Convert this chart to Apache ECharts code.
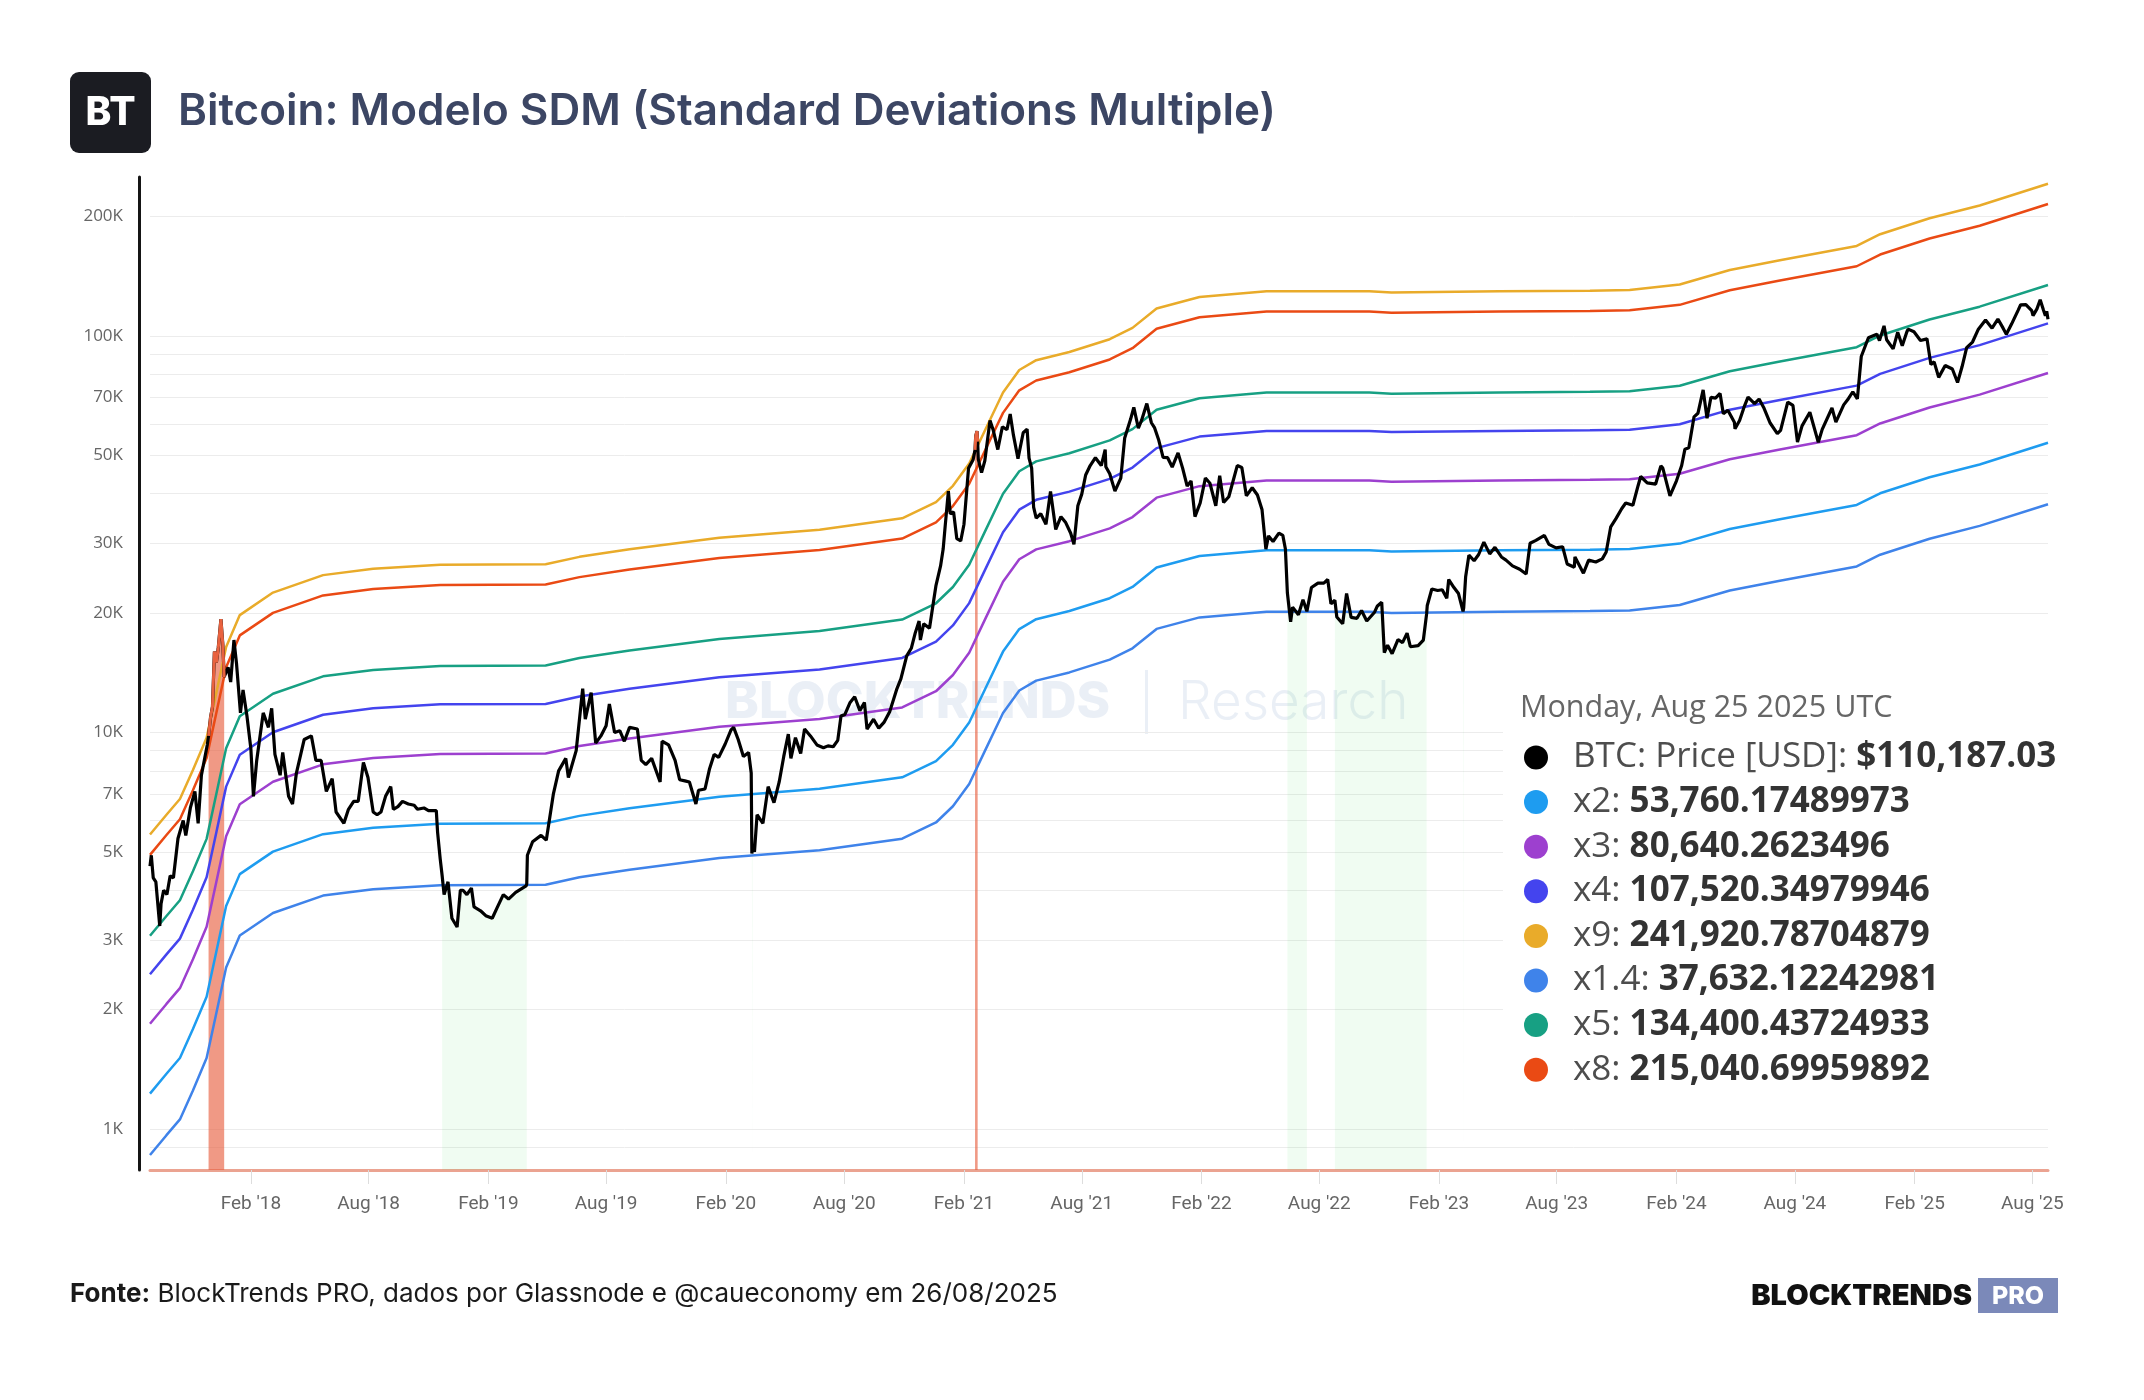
<!DOCTYPE html>
<html>
<head>
<meta charset="utf-8">
<title>Bitcoin: Modelo SDM</title>
<script src="https://cdn.jsdelivr.net/npm/echarts@6/dist/echarts.min.js"></script>
<style>
  html, body { margin: 0; padding: 0; background: #fff; }
  #chart { width: 2144px; height: 1400px; }
</style>
</head>
<body>
<div id="chart"></div>
<script>
// preço BTC (USD), leitura aproximada do gráfico
const btcPrice = [
  ['2017-08-30',4600],['2017-09-01',4900],['2017-09-04',4300],['2017-09-08',4200],['2017-09-14',3250],['2017-09-16',3700],
  ['2017-09-20',4000],['2017-09-25',3900],['2017-09-30',4350],['2017-10-05',4300],['2017-10-12',5400],['2017-10-20',6000],
  ['2017-10-24',5500],['2017-10-31',6450],['2017-11-07',7100],['2017-11-12',5900],['2017-11-17',7800],['2017-11-26',9300],
  ['2017-11-28',9800],['2017-12-01',10900],['2017-12-04',11600],['2017-12-07',16000],['2017-12-10',15000],['2017-12-13',16400],
  ['2017-12-17',19300],['2017-12-20',16600],['2017-12-22',13800],['2017-12-28',14600],
  ['2018-01-01',13400],['2018-01-06',17100],['2018-01-10',14900],['2018-01-16',11200],['2018-01-20',12800],['2018-01-26',11000],
  ['2018-02-01',9100],['2018-02-05',6900],['2018-02-10',8500],['2018-02-20',11200],['2018-02-28',10300],['2018-03-05',11500],
  ['2018-03-10',8800],['2018-03-18',7800],['2018-03-22',8900],['2018-03-31',6900],['2018-04-06',6600],['2018-04-12',7900],
  ['2018-04-24',9600],['2018-05-05',9800],['2018-05-12',8500],['2018-05-20',8500],['2018-05-28',7100],['2018-06-06',7650],
  ['2018-06-12',6300],['2018-06-24',5900],['2018-07-01',6400],['2018-07-09',6700],['2018-07-16',6700],['2018-07-24',8400],
  ['2018-07-31',7700],['2018-08-08',6300],['2018-08-14',6200],['2018-08-20',6300],['2018-08-27',6900],['2018-09-04',7300],
  ['2018-09-08',6400],['2018-09-15',6500],['2018-09-22',6700],['2018-10-01',6600],['2018-10-10',6550],['2018-10-15',6400],
  ['2018-10-25',6450],['2018-11-01',6350],['2018-11-13',6350],['2018-11-15',5600],['2018-11-19',4800],['2018-11-22',4350],
  ['2018-11-25',3900],['2018-12-01',4200],['2018-12-07',3400],['2018-12-15',3230],['2018-12-20',4000],['2018-12-24',4000],
  ['2018-12-30',3900],
  ['2019-01-06',4050],['2019-01-10',3630],['2019-01-20',3550],['2019-01-28',3450],['2019-02-07',3400],['2019-02-14',3600],
  ['2019-02-24',3900],['2019-03-04',3800],['2019-03-15',3950],['2019-03-31',4100],['2019-04-01',4150],['2019-04-02',4900],
  ['2019-04-10',5300],['2019-04-23',5500],['2019-05-01',5350],['2019-05-12',7000],['2019-05-20',8000],['2019-05-31',8600],
  ['2019-06-04',7700],['2019-06-16',9000],['2019-06-26',12900],['2019-06-30',10800],['2019-07-09',12600],['2019-07-16',9400],
  ['2019-07-24',9800],['2019-08-01',10400],['2019-08-06',11800],['2019-08-14',10000],['2019-08-22',10100],['2019-08-29',9500],
  ['2019-09-06',10300],['2019-09-18',10200],['2019-09-24',8500],['2019-10-01',8300],['2019-10-10',8600],['2019-10-23',7500],
  ['2019-10-26',9500],['2019-11-05',9300],['2019-11-15',8500],['2019-11-22',7600],['2019-11-30',7550],['2019-12-07',7500],
  ['2019-12-17',6600],['2019-12-21',7150],['2019-12-31',7200],
  ['2020-01-07',8100],['2020-01-14',8800],['2020-01-21',8650],['2020-01-31',9350],['2020-02-09',10150],['2020-02-13',10300],
  ['2020-02-20',9600],['2020-02-28',8700],['2020-03-07',8900],['2020-03-11',7900],['2020-03-12',4950],['2020-03-13',5200],
  ['2020-03-16',5000],['2020-03-20',6200],['2020-03-29',5900],['2020-04-06',7300],['2020-04-15',6650],['2020-04-23',7500],
  ['2020-04-30',8700],['2020-05-07',9900],['2020-05-11',8600],['2020-05-18',9700],['2020-05-26',8850],['2020-06-01',10200],
  ['2020-06-10',9800],['2020-06-20',9300],['2020-06-30',9150],['2020-07-07',9250],['2020-07-15',9200],['2020-07-22',9550],
  ['2020-07-27',11000],['2020-08-02',11100],['2020-08-10',11900],['2020-08-17',12300],['2020-08-25',11350],['2020-09-01',11900],
  ['2020-09-05',10200],['2020-09-15',10800],['2020-09-23',10250],['2020-10-01',10600],['2020-10-10',11300],['2020-10-21',12900],
  ['2020-10-27',13650],['2020-11-05',15600],['2020-11-12',16300],['2020-11-18',17800],['2020-11-24',19100],['2020-11-26',17100],
  ['2020-12-01',18800],['2020-12-10',18300],['2020-12-16',21300],['2020-12-20',23500],['2020-12-27',26300],['2020-12-31',29000],
  ['2021-01-03',33000],['2021-01-08',40600],['2021-01-11',35600],['2021-01-16',36000],['2021-01-21',30800],['2021-01-27',30400],
  ['2021-02-01',33500],['2021-02-08',46400],['2021-02-15',48700],['2021-02-18',51600],['2021-02-19',55900],['2021-02-20',56000],
  ['2021-02-21',57500],['2021-02-22',54100],['2021-02-23',48800],['2021-02-28',45200],['2021-03-05',48400],['2021-03-13',61200],
  ['2021-03-18',57800],['2021-03-25',51700],
  ['2021-04-01',59000],['2021-04-08',58000],['2021-04-13',63500],['2021-04-18',56200],['2021-04-25',49000],['2021-05-03',57000],
  ['2021-05-09',58200],['2021-05-12',49200],['2021-05-16',46400],['2021-05-19',37000],['2021-05-23',34700],['2021-05-30',35600],
  ['2021-06-07',33500],['2021-06-14',40500],['2021-06-22',32500],['2021-06-30',35000],['2021-07-07',33900],['2021-07-15',31800],
  ['2021-07-20',29800],['2021-07-26',37300],['2021-08-01',39900],['2021-08-07',44600],['2021-08-14',47100],['2021-08-22',49300],
  ['2021-08-31',47100],['2021-09-06',51700],['2021-09-07',46800],['2021-09-13',44900],['2021-09-21',40600],['2021-09-30',43800],
  ['2021-10-06',55300],['2021-10-15',61600],['2021-10-20',66000],['2021-10-27',58500],['2021-11-01',61300],['2021-11-09',67500],
  ['2021-11-16',60400],['2021-11-21',58600],['2021-11-27',54800],['2021-12-04',49400],['2021-12-11',49300],['2021-12-18',46700],
  ['2021-12-27',50700],
  ['2022-01-03',46400],['2022-01-10',41800],['2022-01-16',43100],['2022-01-22',35000],['2022-01-30',37900],['2022-02-07',43800],
  ['2022-02-14',42500],['2022-02-23',37300],['2022-03-01',44400],['2022-03-07',38000],['2022-03-15',39300],['2022-03-28',47100],
  ['2022-04-04',46600],['2022-04-11',39500],['2022-04-20',41400],['2022-04-28',39700],['2022-05-05',36500],['2022-05-11',29000],
  ['2022-05-15',31300],['2022-05-22',30300],['2022-05-31',31800],['2022-06-06',31400],['2022-06-10',29000],['2022-06-13',22500],
  ['2022-06-18',19000],['2022-06-21',20700],['2022-06-30',19800],['2022-07-07',21600],['2022-07-13',20200],['2022-07-20',23200],
  ['2022-07-30',23800],['2022-08-08',23800],['2022-08-14',24300],['2022-08-19',21100],['2022-08-25',21550],['2022-08-28',19550],
  ['2022-09-06',18800],['2022-09-12',22400],['2022-09-19',19500],['2022-09-28',19400],['2022-10-05',20300],['2022-10-13',19100],
  ['2022-10-25',20100],['2022-10-29',20800],['2022-11-05',21300],['2022-11-09',15900],['2022-11-14',16600],['2022-11-21',15800],
  ['2022-11-30',17150],['2022-12-07',16850],['2022-12-14',17800],['2022-12-19',16450],['2022-12-31',16550],
  ['2023-01-08',17100],['2023-01-13',19900],['2023-01-14',20900],['2023-01-21',23000],['2023-01-30',22800],['2023-02-06',22900],
  ['2023-02-13',21800],['2023-02-16',24300],['2023-02-24',23200],['2023-03-03',22400],['2023-03-10',20200],['2023-03-11',20600],
  ['2023-03-14',24700],['2023-03-19',28000],['2023-03-27',27100],['2023-04-03',28100],['2023-04-11',30200],['2023-04-14',30500],
  ['2023-04-20',28200],['2023-04-28',29300],['2023-05-08',27700],['2023-05-15',27200],['2023-05-25',26300],['2023-06-05',25800],
  ['2023-06-15',25100],['2023-06-21',30000],['2023-06-30',30500],['2023-07-13',31400],['2023-07-20',29800],['2023-07-31',29200],
  ['2023-08-10',29400],['2023-08-17',26600],['2023-08-28',26100],['2023-08-29',27700],['2023-09-11',25200],['2023-09-19',27200],
  ['2023-09-30',26900],['2023-10-10',27400],['2023-10-16',28500],['2023-10-23',33000],['2023-10-31',34600],['2023-11-09',36700],
  ['2023-11-15',37900],['2023-11-26',37400],['2023-12-04',41900],['2023-12-08',44200],['2023-12-18',42600],['2023-12-31',42300],
  ['2024-01-08',47000],['2024-01-11',46400],['2024-01-22',39500],['2024-02-01',43100],['2024-02-09',47100],['2024-02-14',51800],
  ['2024-02-20',52200],['2024-02-28',62500],['2024-03-05',63800],['2024-03-13',73100],['2024-03-19',62000],['2024-03-25',70000],
  ['2024-04-01',69700],['2024-04-08',71600],['2024-04-13',63600],['2024-04-20',64900],['2024-04-30',60600],['2024-05-01',58300],
  ['2024-05-08',61200],['2024-05-15',66200],['2024-05-21',70100],['2024-05-31',67500],['2024-06-07',69300],['2024-06-14',66000],
  ['2024-06-24',60300],['2024-07-05',56700],['2024-07-10',57800],['2024-07-21',68100],['2024-07-29',66800],['2024-08-05',54000],
  ['2024-08-12',59300],['2024-08-24',64200],['2024-09-06',53900],['2024-09-12',58100],['2024-09-27',65800],['2024-10-03',60600],
  ['2024-10-15',67000],['2024-10-21',69000],['2024-10-29',72300],['2024-11-05',69400],['2024-11-11',88700],['2024-11-22',98900],
  ['2024-12-05',101000],['2024-12-09',97300],['2024-12-16',106000],['2024-12-20',97800],['2024-12-30',92700],
  ['2025-01-06',102200],['2025-01-13',94500],['2025-01-20',102300],['2025-01-22',104000],['2025-01-31',102400],['2025-02-03',101400],
  ['2025-02-10',97400],['2025-02-20',98300],['2025-02-26',84700],['2025-03-03',86000],['2025-03-10',78600],['2025-03-20',84200],
  ['2025-03-31',82500],['2025-04-08',76300],['2025-04-15',83700],['2025-04-22',93400],['2025-05-01',96500],['2025-05-10',104000],
  ['2025-05-21',109600],['2025-05-31',104600],['2025-06-09',110300],['2025-06-17',104600],['2025-06-22',101000],['2025-06-30',107100],
  ['2025-07-10',116000],['2025-07-14',119800],['2025-07-22',119900],['2025-07-31',115800],['2025-08-02',112500],['2025-08-08',117000],
  ['2025-08-13',123300],['2025-08-18',116300],['2025-08-21',112400],['2025-08-23',115400],['2025-08-25',110187.03]
];

// banda base (x1), as outras são múltiplos dela
const bandBase = [
  ['2017-08-30',614],['2017-09-24',688],['2017-10-15',755],['2017-11-04',893],['2017-11-25',1078],['2017-12-10',1401],
  ['2017-12-25',1825],['2018-01-15',2196],['2018-03-07',2503],['2018-05-23',2770],['2018-08-08',2875],['2018-11-19',2943],
  ['2019-04-30',2950],['2019-06-21',3080],['2019-09-06',3220],['2020-01-22',3443],['2020-06-24',3604],['2020-10-29',3853],
  ['2020-12-20',4234],['2021-01-15',4653],['2021-02-09',5297],['2021-03-07',6511],['2021-04-02',7995],['2021-04-27',9113],
  ['2021-05-23',9650],['2021-07-13',10120],['2021-09-13',10900],['2021-10-18',11640],['2021-11-24',13030],['2022-01-29',13930],
  ['2022-05-12',14400],['2022-10-17',14400],['2022-11-20',14300],['2023-05-05',14400],['2023-09-21',14450],['2023-11-21',14500],
  ['2024-02-06',14970],['2024-04-23',16290],['2024-07-09',17240],['2024-11-04',18730],['2024-12-10',20050],['2025-02-24',22000],
  ['2025-05-12',23700],['2025-08-25',26880.087449865]
];

const bandNames = ['x9', 'x8', 'x5', 'x4', 'x3', 'x2', 'x1.4'];
const bandMultiples = [9, 8, 5, 4, 3, 2, 1.4];
const bandColors = ['#e9ab2a', '#ea4a14', '#17a083', '#4444ee', '#9d40cf', '#1e9cf0', '#3f83ea'];

// zonas de sinal (preço acima de x9 / abaixo de x1.4)
const redWindows = [['2017-11-28', '2017-12-22'], ['2021-02-18', '2021-02-22']];
const greenWindows = [['2018-11-22', '2019-04-01'], ['2020-03-12', '2020-03-13'], ['2022-06-13', '2022-07-13'],
  ['2022-08-25', '2023-01-13'], ['2023-03-10', '2023-03-11']];

const xTickDates = ['2018-02-01','2018-08-01','2019-02-01','2019-08-01','2020-02-01','2020-08-01','2021-02-01','2021-08-01',
  '2022-02-01','2022-08-01','2023-02-01','2023-08-01','2024-02-01','2024-08-01','2025-02-01','2025-08-01'];
const monthNames = ['Jan','Feb','Mar','Apr','May','Jun','Jul','Aug','Sep','Oct','Nov','Dec'];

const yLabelValues = [1000, 2000, 3000, 5000, 7000, 10000, 20000, 30000, 50000, 70000, 100000, 200000];
const yGridValues = [900, 1000, 2000, 3000, 4000, 5000, 6000, 7000, 8000, 9000, 10000, 20000, 30000, 40000, 50000,
  60000, 70000, 80000, 90000, 100000, 200000];

const legendNames = ['BTC: Price [USD]', 'x2', 'x3', 'x4', 'x9', 'x1.4', 'x5', 'x8'];
const legendValues = ['$110,187.03', '53,760.17489973', '80,640.2623496', '107,520.34979946', '241,920.78704879',
  '37,632.12242981', '134,400.43724933', '215,040.69959892'];

const startDate = '2017-08-30';
const endDate = '2025-08-25';

function ts(s) {
  const p = s.split('-');
  return Date.UTC(+p[0], +p[1] - 1, +p[2]);
}

function toPoints(arr) {
  return arr.map(function (d) { return [ts(d[0]), d[1]]; });
}

function signalData(windows) {
  const out = [];
  windows.forEach(function (w, i) {
    if (i > 0) out.push([ts(w[0]) - 1, null]);
    btcPrice.forEach(function (p) {
      if (ts(p[0]) >= ts(w[0]) && ts(p[0]) <= ts(w[1])) out.push([ts(p[0]), p[1]]);
    });
  });
  return out;
}

const bandSeries = bandNames.map(function (name, i) {
  return {
    name: name,
    type: 'line',
    color: bandColors[i],
    showSymbol: false,
    symbol: 'none',
    lineStyle: { width: 2.5, color: bandColors[i] },
    data: bandBase.map(function (d) { return [ts(d[0]), d[1] * bandMultiples[i]]; })
  };
});

const chart = echarts.init(document.getElementById('chart'));

const wmColor = 'rgba(190, 204, 228, 0.32)';

chart.setOption({
  animation: false,
  backgroundColor: '#ffffff',
  grid: { left: 150, right: 96, top: 177, bottom: 230 },
  xAxis: {
    type: 'value',
    min: ts(startDate),
    max: ts(endDate),
    axisLine: { show: true, lineStyle: { color: '#eba391', width: 3 } },
    axisTick: { show: true, customValues: xTickDates.map(ts), length: 14, lineStyle: { color: '#dddddd', width: 1 } },
    axisLabel: {
      customValues: xTickDates.map(ts),
      color: '#666666',
      fontFamily: 'Roboto',
      fontSize: 19,
      margin: 25,
      formatter: function (value) {
        const d = new Date(value);
        return monthNames[d.getUTCMonth()] + " '" + String(d.getUTCFullYear()).slice(2);
      }
    },
    splitLine: { show: false }
  },
  yAxis: {
    type: 'log',
    logBase: 10,
    min: 788,
    max: 251600,
    offset: 11,
    axisLine: { show: true, lineStyle: { color: '#151515', width: 3 } },
    axisTick: { show: false },
    axisLabel: { show: false },
    splitLine: { show: false }
  },
  legend: {
    orient: 'vertical',
    left: 1524,
    top: 740,
    padding: 0,
    itemGap: 9.6,
    itemWidth: 64,
    itemHeight: 24,
    icon: 'circle',
    selectedMode: false,
    z: 10,
    data: legendNames,
    formatter: function (name) {
      const v = legendValues[legendNames.indexOf(name)];
      return '{n|' + name + ': }{v|' + v + '}';
    },
    textStyle: {
      fontFamily: 'Open Sans',
      fontSize: 35,
      color: '#4d4d4d',
      rich: {
        n: { fontFamily: 'Open Sans', fontSize: 35, color: '#4d4d4d' },
        v: { fontFamily: 'Open Sans', fontSize: 35, fontWeight: 700, color: '#333333' }
      }
    }
  },
  graphic: [
    { type: 'rect', z: 0, shape: { x: 70, y: 72, width: 81, height: 81, r: 9 }, style: { fill: '#1b1c22' } },
    { type: 'text', z: 1, x: 110.5, y: 113, style: { text: 'BT', fill: '#ffffff', fontFamily: 'Inter', fontSize: 39, fontWeight: 800,
      align: 'center', verticalAlign: 'middle', textAlign: 'center', textVerticalAlign: 'middle' } },
    { type: 'text', z: 1, x: 178, y: 112, style: { text: 'Bitcoin: Modelo SDM (Standard Deviations Multiple)', fill: '#3c4664',
      fontFamily: 'Inter', fontSize: 44, fontWeight: 600, align: 'left', verticalAlign: 'middle', textAlign: 'left', textVerticalAlign: 'middle' } },
    // marca d'água
    { type: 'text', z: 0, x: 725, y: 703, style: { text: 'BLOCKTRENDS', fill: wmColor, fontFamily: 'Inter', fontSize: 51, fontWeight: 800,
      align: 'left', verticalAlign: 'middle', textAlign: 'left', textVerticalAlign: 'middle' } },
    { type: 'rect', z: 0, shape: { x: 1145, y: 670, width: 3, height: 64 }, style: { fill: wmColor } },
    { type: 'text', z: 0, x: 1178, y: 703, style: { text: 'Research', fill: wmColor, fontFamily: 'Inter', fontSize: 53, fontWeight: 300,
      align: 'left', verticalAlign: 'middle', textAlign: 'left', textVerticalAlign: 'middle' } },
    // caixa da legenda
    { type: 'rect', z: 3, shape: { x: 1503, y: 622, width: 600, height: 500 }, style: { fill: '#ffffff' } },
    { type: 'text', z: 5, x: 1520, y: 708, style: { text: 'Monday, Aug 25 2025 UTC', fill: '#666666', fontFamily: 'Open Sans', fontSize: 30.5,
      align: 'left', verticalAlign: 'middle', textAlign: 'left', textVerticalAlign: 'middle' } },
    // rodapé
    { type: 'text', z: 1, x: 70, y: 1294, style: { text: '{b|Fonte:} BlockTrends PRO, dados por Glassnode e @caueconomy em 26/08/2025',
      fill: '#1a1a1a', fontFamily: 'Inter', fontSize: 26, align: 'left', verticalAlign: 'middle', textAlign: 'left', textVerticalAlign: 'middle',
      rich: { b: { fontFamily: 'Inter', fontSize: 26, fontWeight: 700, fill: '#1a1a1a' } } } },
    { type: 'text', z: 1, x: 1972, y: 1296, style: { text: 'BLOCKTRENDS', fill: '#111111', fontFamily: 'Inter', fontSize: 29, fontWeight: 900,
      align: 'right', verticalAlign: 'middle', textAlign: 'right', textVerticalAlign: 'middle' } },
    { type: 'rect', z: 1, shape: { x: 1978, y: 1278, width: 80, height: 35 }, style: { fill: '#7b89b9' } },
    { type: 'text', z: 2, x: 2018, y: 1296, style: { text: 'PRO', fill: '#ffffff', fontFamily: 'Inter', fontSize: 25, fontWeight: 800,
      align: 'center', verticalAlign: 'middle', textAlign: 'center', textVerticalAlign: 'middle' } }
  ],
  series: [
    {
      name: 'grid',
      type: 'line',
      z: 1,
      silent: true,
      symbol: 'none',
      lineStyle: { opacity: 0 },
      data: [[ts(startDate), 1000], [ts(endDate), 1000]],
      markLine: {
        silent: true,
        symbol: 'none',
        z: 1,
        animation: false,
        lineStyle: { color: '#ececec', width: 1, type: 'solid' },
        emphasis: { disabled: true },
        label: {
          position: 'start',
          distance: 27,
          color: '#666666',
          fontFamily: 'Open Sans',
          fontSize: 17,
          formatter: function (p) { return (p.value / 1000) + 'K'; }
        },
        data: yGridValues.map(function (v) {
          return { yAxis: v, label: { show: yLabelValues.indexOf(v) >= 0 } };
        })
      }
    },
    {
      name: 'green',
      type: 'line',
      symbol: 'none',
      silent: true,
      connectNulls: false,
      lineStyle: { width: 1.5, color: 'rgba(80, 220, 110, 0.2)' },
      areaStyle: { origin: 'start', color: 'rgba(80, 225, 110, 0.12)' },
      data: signalData(greenWindows)
    }
  ].concat(bandSeries).concat([
    {
      name: 'BTC: Price [USD]',
      type: 'line',
      color: '#000000',
      symbol: 'none',
      lineStyle: { width: 3.2, color: '#000000' },
      data: toPoints(btcPrice)
    },
    {
      name: 'red',
      type: 'line',
      symbol: 'none',
      silent: true,
      connectNulls: false,
      lineStyle: { width: 3, color: '#e8623f' },
      areaStyle: { origin: 'start', color: 'rgba(232, 98, 66, 0.92)' },
      data: signalData(redWindows)
    }
  ])
});
</script>
</body>
</html>
